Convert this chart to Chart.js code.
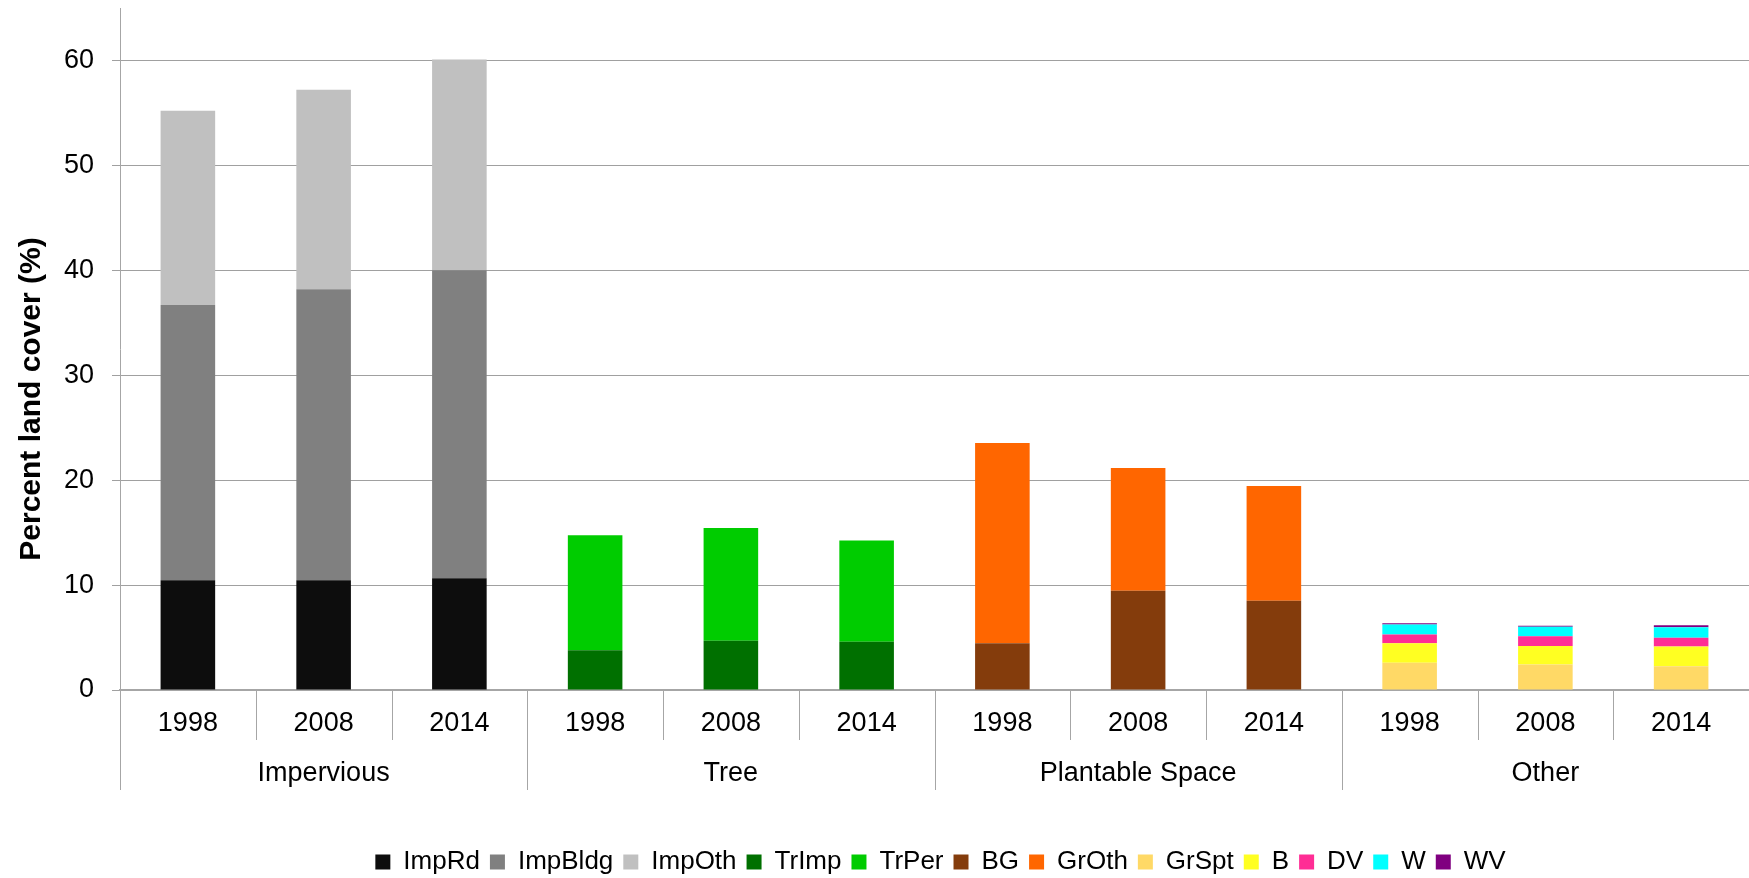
<!DOCTYPE html>
<html>
<head>
<meta charset="utf-8">
<title>Percent land cover</title>
<script src="https://cdn.jsdelivr.net/npm/chart.js@4.4.1/dist/chart.umd.min.js"></script>
<style>
    body { margin: 0; background: #fff; }
    #wrap { width: 1749px; height: 878px; }
</style>
</head>
<body>
<div id="wrap"><canvas id="landChart"></canvas></div>
<script>
// Land cover data (percent) per group, years 1998 / 2008 / 2014
const years = ['1998', '2008', '2014'];
const groups = ['Impervious', 'Tree', 'Plantable Space', 'Other'];
const yTicks = [0, 10, 20, 30, 40, 50, 60];

const impRd   = [10.45, 10.45, 10.65];
const impBldg = [26.25, 27.75, 29.35];
const impOth  = [18.5, 19.0, 20.1];
const trImp   = [3.8, 4.7, 4.6];
const trPer   = [10.95, 10.75, 9.65];
const bg      = [4.45, 9.45, 8.5];
const grOth   = [19.1, 11.7, 10.95];
const grSpt   = [2.6, 2.42, 2.26];
const bVals   = [1.85, 1.78, 1.88];
const dv      = [0.85, 0.92, 0.83];
const w       = [0.95, 0.9, 1.02];
const wv      = [0.12, 0.1, 0.19];

const series = [
    { label: 'ImpRd',   group: 0, values: impRd,   color: '#0d0d0d' },
    { label: 'ImpBldg', group: 0, values: impBldg, color: '#808080' },
    { label: 'ImpOth',  group: 0, values: impOth,  color: '#c0c0c0' },
    { label: 'TrImp',   group: 1, values: trImp,   color: '#007000' },
    { label: 'TrPer',   group: 1, values: trPer,   color: '#00cc00' },
    { label: 'BG',      group: 2, values: bg,      color: '#843c0c' },
    { label: 'GrOth',   group: 2, values: grOth,   color: '#ff6600' },
    { label: 'GrSpt',   group: 3, values: grSpt,   color: '#ffd966' },
    { label: 'B',       group: 3, values: bVals,   color: '#ffff22' },
    { label: 'DV',      group: 3, values: dv,      color: '#ff2d95' },
    { label: 'W',       group: 3, values: w,       color: '#00ffff' },
    { label: 'WV',      group: 3, values: wv,      color: '#800080' }
];

const labels = groups.flatMap(() => years);

function spreadValues(s) {
    const out = new Array(labels.length).fill(null);
    s.values.forEach((v, i) => { out[s.group * years.length + i] = v; });
    return out;
}

const FONT = '"Liberation Sans", Arial, sans-serif';
const AXIS_GREY = '#a6a6a6';

// separators between year categories and between groups, below the axis,
// plus the rotated y axis title (placed a bit below the plot centre like the original)
const extrasPlugin = {
    id: 'extras',
    afterLayout(chart) {
        // legend sits right of centre in the original
        chart.legend.left = 132;
    },
    afterDraw(chart) {
        const xs = chart.scales.x;
        const bottom = chart.chartArea.bottom;
        const half = (xs.getPixelForValue(1) - xs.getPixelForValue(0)) / 2;
        const ctx = chart.ctx;
        ctx.save();
        ctx.strokeStyle = AXIS_GREY;
        ctx.lineWidth = 1;
        for (let i = 0; i <= labels.length; i++) {
            const px = Math.round(xs.getPixelForValue(0) - half + i * 2 * half) + 0.5;
            const len = i % years.length === 0 ? 100 : 50;
            ctx.beginPath();
            ctx.moveTo(px, bottom);
            ctx.lineTo(px, bottom + len);
            ctx.stroke();
        }

        ctx.translate(32, 399);
        ctx.rotate(-Math.PI / 2);
        ctx.fillStyle = '#000';
        ctx.font = 'bold 30px ' + FONT;
        ctx.textAlign = 'center';
        ctx.textBaseline = 'middle';
        ctx.fillText('Percent land cover (%)', 0, 0);
        ctx.restore();
    }
};

const ctx = document.getElementById('landChart').getContext('2d');
new Chart(ctx, {
    type: 'bar',
    data: {
        labels: labels,
        datasets: series.map(s => ({
            label: s.label,
            data: spreadValues(s),
            backgroundColor: s.color,
            borderWidth: 0,
            barPercentage: 0.402,
            categoryPercentage: 1.0
        }))
    },
    options: {
        responsive: true,
        maintainAspectRatio: false,
        animation: false,
        layout: { padding: { top: 8, right: 0, left: 0, bottom: -7 } },
        plugins: {
            tooltip: { enabled: false },
            legend: {
                position: 'bottom',
                labels: {
                    font: { family: FONT, size: 26 },
                    color: '#000',
                    boxWidth: 15,
                    boxHeight: 15,
                    padding: 10
                }
            }
        },
        scales: {
            x: {
                stacked: true,
                grid: { display: false, drawTicks: false },
                border: { display: true, color: AXIS_GREY, width: 2 },
                ticks: {
                    font: { family: FONT, size: 27 },
                    color: '#000',
                    padding: 17,
                    maxRotation: 0,
                    autoSkip: false
                },
                afterFit(scale) { scale.height = 48; }
            },
            x2: {
                type: 'category',
                labels: groups,
                position: 'bottom',
                grid: { display: false, drawTicks: false },
                border: { display: false },
                ticks: {
                    font: { family: FONT, size: 27 },
                    color: '#000',
                    padding: 19,
                    maxRotation: 0,
                    autoSkip: false
                },
                afterFit(scale) { scale.height = 101; }
            },
            y: {
                stacked: true,
                min: 0,
                max: 65,
                grid: { color: '#a0a0a0', lineWidth: 1, tickLength: 8 },
                border: { display: true, color: AXIS_GREY, width: 1 },
                ticks: {
                    stepSize: 10,
                    font: { family: FONT, size: 27 },
                    color: '#000',
                    padding: 18
                },
                afterBuildTicks(scale) {
                    scale.ticks = yTicks.map(v => ({ value: v }));
                },
                afterFit(scale) {
                    scale.width = 120;
                    scale.paddingTop = 0;
                }
            }
        }
    },
    plugins: [extrasPlugin]
});
</script>
</body>
</html>
